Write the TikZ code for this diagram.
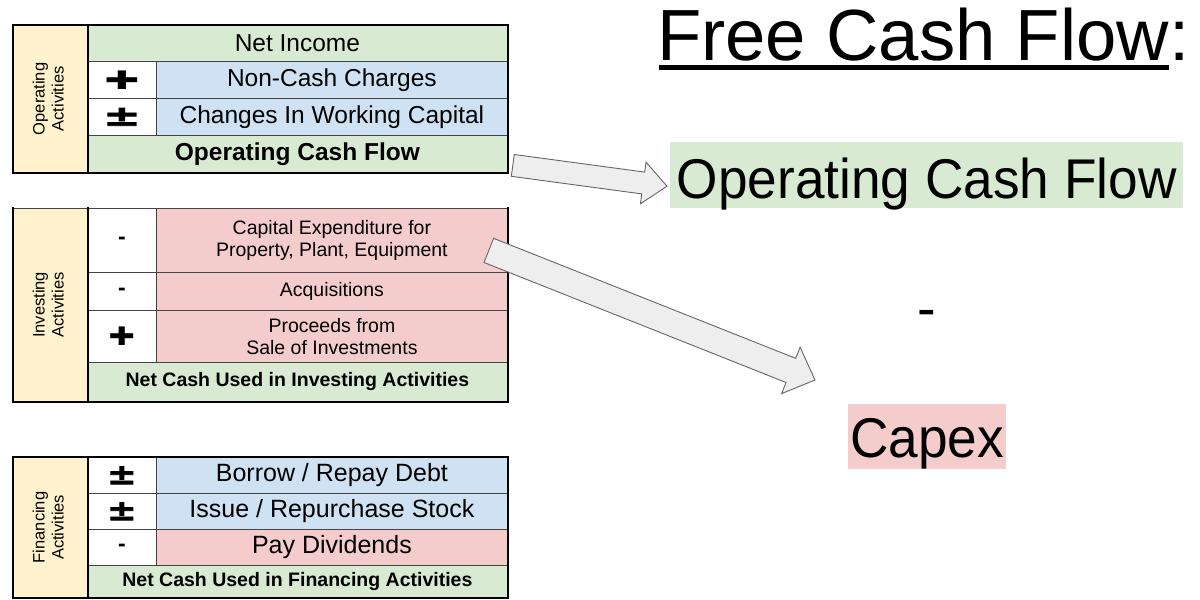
\documentclass[tikz,border=0pt]{standalone}
\usepackage{fontspec}
\setmainfont{Liberation Sans}
\newfontfamily\djv{DejaVu Sans}
\newfontfamily\djvheavy{DejaVu Sans}[BoldFeatures={FakeBold=2.5}]
\usetikzlibrary{calc}
\definecolor{ygold}{HTML}{FFF2CC}
\definecolor{greenc}{HTML}{D9EAD3}
\definecolor{bluec}{HTML}{CFE2F3}
\definecolor{pinkc}{HTML}{F4CCCC}
\definecolor{gridc}{HTML}{444444}
\definecolor{arrfill}{HTML}{EEEEEE}
\definecolor{arrdraw}{HTML}{666666}
\newcommand\fsz[2]{\fontsize{#1}{#2}\selectfont}
\newcommand\plusbig{{\djv\bfseries\fsz{30}{32}\scalebox{1.4}[0.85]{✚}}}
\newcommand\plussmall{{\djv\bfseries\fsz{30}{32}\scalebox{1.05}[0.85]{✚}}}
\newcommand\pmbig{{\djvheavy\bfseries\fsz{36}{38}\scalebox{1.25}[0.78]{±}}}
\newcommand\pmsmall{{\djvheavy\bfseries\fsz{36}{38}\scalebox{0.98}[0.78]{±}}}
\newcommand\minsign{{\bfseries\fsz{23}{25}-}}
\newcommand\blkarrow[5]{%
  \coordinate (#1h) at ($(#2)!#5!(#1)$);
  \draw[blockarr] ($(#1)!#3!90:(#2)$) -- ($(#1h)!#3!90:(#2)$) -- ($(#1h)!#4!90:(#2)$)
    -- (#2) -- ($(#1h)!#4!-90:(#2)$) -- ($(#1h)!#3!-90:(#2)$) -- ($(#1)!#3!-90:(#2)$) -- cycle;}
\tikzset{
  cell/.style={draw=gridc, line width=0.8pt, anchor=north west, inner sep=0pt, align=center},
  big/.style={font=\fsz{24.5}{28}},
  bigb/.style={font=\fsz{24.5}{28}\bfseries},
  small/.style={font=\fsz{19.5}{22.5}},
  smallb/.style={font=\fsz{19.5}{22.5}\bfseries},
  fin/.style={font=\fsz{25}{28}},
  outer/.style={line width=2.5pt, black, line cap=rect},
  blockarr/.style={fill=arrfill, draw=arrdraw, line width=0.9pt, line join=miter},
}
\begin{document}
\begin{tikzpicture}[x=1pt,y=-1pt]
\useasboundingbox[fill=white] (0,0) rectangle (1200,600);

% ---------- Operating ----------
\node[cell, fill=ygold, minimum width=74pt, minimum height=147pt] (opY) at (13,25)
  {\rotatebox{90}{\fsz{16.5}{19}\begin{tabular}{@{}c@{}}Operating\\Activities\end{tabular}}};
\node[cell, big, fill=greenc, minimum width=420pt, minimum height=36pt] (opNI) at (87,25) {Net Income};
\node[cell, fill=white, minimum width=69pt, minimum height=37pt] (opS1) at (87,61) {\plusbig};
\node[cell, big, fill=bluec, minimum width=351pt, minimum height=37pt] (opNC) at (156,61) {Non-Cash Charges};
\node[cell, fill=white, minimum width=69pt, minimum height=37pt] (opS2) at (87,98) {\pmbig};
\node[cell, big, fill=bluec, minimum width=351pt, minimum height=37pt] (opWC) at (156,98) {Changes In Working Capital};
\node[cell, bigb, fill=greenc, minimum width=420pt, minimum height=37pt] (ocf) at (87,135) {Operating Cash Flow};
\draw[outer] (opY.north west) rectangle (ocf.south east);
\draw[outer] (opY.north east) -- (opY.south east);

% ---------- Investing ----------
\node[cell, fill=ygold, minimum width=74pt, minimum height=193pt] (inY) at (13,208)
  {\rotatebox{90}{\fsz{16.5}{19}\begin{tabular}{@{}c@{}}Investing\\Activities\end{tabular}}};
\node[cell, fill=white, minimum width=69pt, minimum height=64pt] (inS1) at (87,208) {\minsign};
\node[cell, small, fill=pinkc, minimum width=351pt, minimum height=64pt] (capex) at (156,208)
  {Capital Expenditure for\\Property, Plant, Equipment};
\node[cell, fill=white, minimum width=69pt, minimum height=38pt] (inS2) at (87,272) {\minsign};
\node[cell, small, fill=pinkc, minimum width=351pt, minimum height=38pt] (inAQ) at (156,272) {Acquisitions};
\node[cell, fill=white, minimum width=69pt, minimum height=52pt] (inS3) at (87,310) {\plussmall};
\node[cell, small, fill=pinkc, minimum width=351pt, minimum height=52pt] (inPR) at (156,310)
  {Proceeds from\\Sale of Investments};
\node[cell, smallb, fill=greenc, minimum width=420pt, minimum height=39pt] (inNC) at (87,362)
  {Net Cash Used in Investing Activities};
\draw[outer] (inY.north west) -- (inY.south west) -- (inNC.south east) -- (capex.north east);
\draw[outer] (inY.north east) -- (inY.south east);

% ---------- Financing ----------
\node[cell, fill=ygold, minimum width=74pt, minimum height=140pt] (fiY) at (13,457)
  {\rotatebox{90}{\fsz{16.5}{19}\begin{tabular}{@{}c@{}}Financing\\Activities\end{tabular}}};
\node[cell, fill=white, minimum width=69pt, minimum height=36pt] (fiS1) at (87,457) {\pmsmall};
\node[cell, fin, fill=bluec, minimum width=351pt, minimum height=36pt] (fiBR) at (156,457) {Borrow / Repay Debt};
\node[cell, fill=white, minimum width=69pt, minimum height=36pt] (fiS2) at (87,493) {\pmsmall};
\node[cell, fin, fill=bluec, minimum width=351pt, minimum height=36pt] (fiIS) at (156,493) {Issue / Repurchase Stock};
\node[cell, fill=white, minimum width=69pt, minimum height=36pt] (fiS3) at (87,529) {\minsign};
\node[cell, fin, fill=pinkc, minimum width=351pt, minimum height=36pt] (fiPD) at (156,529) {Pay Dividends};
\node[cell, smallb, fill=greenc, minimum width=420pt, minimum height=32pt] (fiNC) at (87,565)
  {Net Cash Used in Financing Activities};
\draw[outer] (fiY.north west) rectangle (fiNC.south east);
\draw[outer] (fiY.north east) -- (fiY.south east);

% ---------- Right side ----------
\node[anchor=base west, inner sep=0pt, font=\fsz{72.5}{80}] (title) at (657,60) {Free Cash Flow};
\node[anchor=base west, inner sep=0pt, font=\fsz{72.5}{80}] (colon) at (title.base east) {:};
\draw[line width=4.5pt] ($(title.base west)+(2,7.5)$) -- ($(title.base east)+(0,7.5)$);

\node[fill=greenc, anchor=north west, inner sep=0pt, minimum width=513pt, text height=56pt, text depth=10pt]
  (bigocf) at (670,142) {\fsz{56}{60}\scalebox{0.95}[1]{Operating Cash Flow}};
\node[anchor=base, inner sep=0pt] (minus) at (927,327) {\fsz{56}{60}-};
\node[fill=pinkc, anchor=north west, inner sep=0pt, minimum width=158pt, text height=53pt, text depth=12pt]
  (capexbig) at (848,404) {\fsz{56}{60}\scalebox{0.95}[1]{Capex}};

% ---------- block arrows ----------
\coordinate (a1s) at ($(ocf.east)+(5,11.5)$);
\coordinate (a1e) at ($(bigocf.west)+(-3,11)$);
\blkarrow{a1s}{a1e}{11pt}{21pt}{24pt}
\coordinate (a2s) at ($(capex.east)+(-19,10)$);
\coordinate (a2e) at ($(capexbig.north west)+(-33,-24)$);
\blkarrow{a2s}{a2e}{13pt}{25pt}{26pt}
\end{tikzpicture}
\end{document}
